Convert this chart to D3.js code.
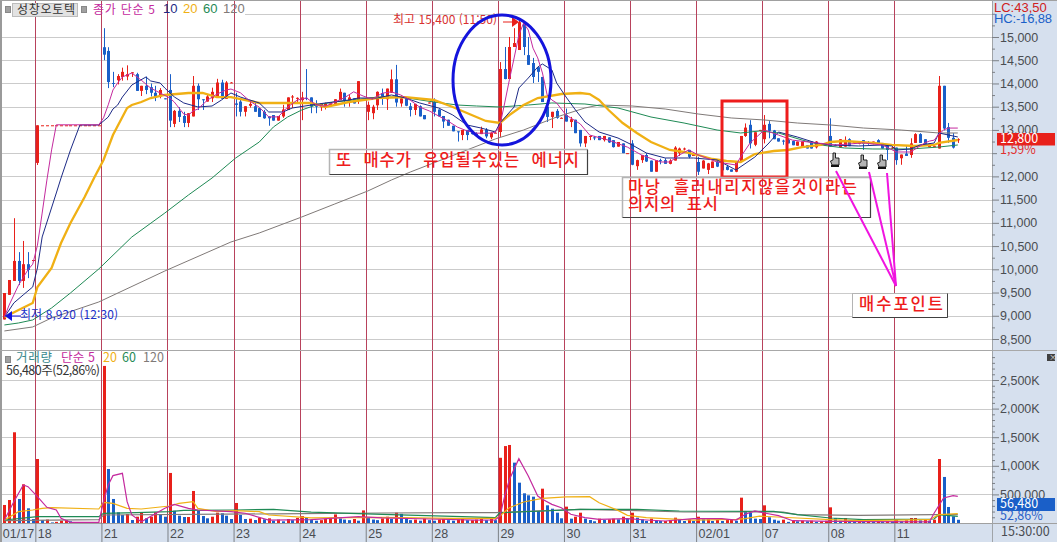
<!DOCTYPE html>
<html lang="ko">
<head>
    <meta charset="UTF-8">
    <script src="https://cdn.jsdelivr.net/npm/d3@7/dist/d3.min.js"></script>
    <title>성창오토텍</title>
    <style>
        html, body { margin: 0; padding: 0; background: #fff; overflow: hidden; }
        svg { font-family: "Noto Sans CJK KR", sans-serif; }
    </style>
</head>
<body>
<script>
    // 10분봉 (index 0 ~ 202)
    const opens = [
        8920,9450,9750,10180,9750,10110,10190,12290,13100,13100,
        13100,13100,13100,13100,13100,13100,13100,13100,13100,13100,
        13100,14780,14700,14010,14070,14140,14150,14230,14200,13840,
        13950,13920,13800,13720,13680,13860,13130,13410,13300,13150,
        13290,13950,13660,13610,13680,13700,14020,13670,14020,13570,
        13610,13390,13520,13510,13470,13390,13290,13320,13200,13290,
        13430,13700,13680,13640,13690,13700,13560,13490,13500,13510,
        13560,13640,13800,13630,13680,13640,13650,13390,13360,13530,
        13790,13660,13800,14090,13570,13680,13510,13430,13510,13320,
        13590,13610,13440,13300,13220,13090,12970,12890,13000,12940,
        12920,12910,13000,12840,12940,12955,14310,14095,14785,14720,
        15300,14610,14440,14350,14140,13500,13280,13410,13260,13320,
        13170,13220,13000,12710,12850,12840,12870,12780,12840,12780,
        12640,12710,12500,12710,12220,12350,12460,12340,12100,12350,
        12350,12270,12340,12500,12590,12570,12460,12310,12170,12140,
        12180,12320,12350,12210,12150,12100,12320,12870,13110,12680,
        12990,12800,13130,12990,12820,12770,12790,12760,12660,12640,
        12670,12750,12625,12700,12680,12870,12680,12625,12640,12800,
        12740,12700,12780,12730,12700,12780,12720,12670,12620,12620,
        12390,12490,12460,12720,12910,12800,12630,12650,12600,13950,
        13060,12830,12780
    ];
    const highs = [
        9490,9770,11100,10370,10610,10370,10200,13100,13100,13100,
        13100,13100,13100,13100,13100,13100,13100,13100,13100,13100,
        13100,15190,14780,14250,14200,14340,14390,14240,14230,13950,
        14150,14000,13950,13900,13680,14200,13430,13490,13390,13360,
        14160,14000,13660,13770,13910,14100,14080,14050,14030,13800,
        13690,13510,13610,13610,13470,13430,13290,13320,13300,13540,
        13700,13750,13700,13820,14310,13700,13640,13570,13590,13570,
        13660,13890,13800,13750,13680,14050,13650,13610,13540,13830,
        13890,13890,14300,14400,13750,13700,13580,13560,13530,13320,
        13590,13680,13440,13300,13220,13090,12970,13000,13000,12950,
        12950,13070,13040,12950,12950,14460,14785,15000,15190,15400,
        15300,15000,14550,14350,14140,13640,13390,13450,13270,13460,
        13280,13220,13000,12870,12880,12870,12870,12870,12840,12780,
        12740,12710,12500,12780,12360,12460,12500,12340,12350,12380,
        12390,12370,12650,12620,12620,12570,12470,12420,12350,12290,
        12320,12350,12350,12250,12150,12320,12870,13140,13210,12950,
        13000,13320,13190,13000,12820,12790,12810,12770,12750,12750,
        12670,12750,12760,12720,12700,13250,12690,12800,12860,12820,
        12760,12760,12780,12760,12750,12800,12720,12670,12640,12620,
        12470,12670,12820,12930,12930,12800,12710,12660,14160,13950,
        13150,12930,12820
    ];
    const lows = [
        8920,9450,9750,9660,9600,9810,10180,12245,13100,13100,
        13100,13100,13100,13100,13100,13100,13100,13100,13100,13100,
        13100,14500,13900,13920,13980,14060,14070,14140,13840,13730,
        13770,13720,13620,13680,13660,13060,13060,13170,13060,13060,
        13290,13430,13430,13610,13600,13700,13670,13670,14010,13290,
        13290,13290,13480,13390,13280,13240,13090,13200,13200,13260,
        13430,13470,13580,13210,13640,13360,13360,13410,13440,13510,
        13560,13640,13500,13500,13570,13560,13640,13210,13230,13430,
        13540,13430,13800,13500,13500,13510,13290,13320,13290,13230,
        13570,13290,13280,13040,13090,12970,12750,12780,12780,12900,
        12880,12910,12820,12800,12930,12850,14090,14095,14785,14720,
        14610,14400,14010,14030,13600,13170,13040,13240,13250,13180,
        13060,12930,12640,12630,12780,12780,12780,12750,12720,12620,
        12640,12500,12490,12240,12140,12290,12310,12100,12100,12260,
        12270,12260,12340,12440,12560,12390,12450,12030,12170,12050,
        12180,12200,12100,12130,12100,12090,12320,12850,12600,12650,
        12980,12710,12820,12800,12750,12680,12710,12670,12660,12620,
        12600,12600,12600,12660,12670,12640,12650,12625,12640,12650,
        12700,12690,12570,12680,12690,12710,12600,12350,12590,12250,
        12250,12440,12400,12720,12720,12700,12630,12640,12600,12990,
        12720,12600,12720
    ];
    const closes = [
        9490,9770,10180,9750,10110,9985,10200,13100,13100,13100,
        13100,13100,13100,13100,13100,13100,13100,13100,13100,13100,
        13100,14620,14030,14000,14160,14250,14200,14240,13840,13950,
        13860,13800,13700,13860,13670,13200,13410,13280,13150,13360,
        13950,13660,13640,13720,13820,14020,13670,14020,14020,13540,
        13390,13510,13560,13390,13280,13250,13250,13200,13300,13440,
        13700,13720,13690,13700,13670,13510,13500,13570,13570,13570,
        13660,13820,13630,13700,13570,14050,13650,13540,13500,13820,
        13680,13890,14090,13590,13680,13520,13430,13560,13290,13230,
        13590,13390,13290,13180,13090,12970,12960,13000,12890,12910,
        12890,13010,12860,12940,12940,14310,14095,14785,14870,15320,
        14785,14400,14140,14250,13600,13280,13390,13260,13260,13180,
        13230,12930,12710,12870,12870,12830,12780,12870,12730,12630,
        12740,12500,12500,12250,12350,12460,12320,12100,12350,12340,
        12270,12340,12620,12600,12600,12420,12460,12100,12340,12280,
        12320,12210,12130,12140,12100,12320,12870,13050,12710,12950,
        13000,13110,12980,12800,12750,12760,12710,12670,12750,12750,
        12600,12600,12750,12710,12690,12640,12670,12800,12780,12650,
        12740,12760,12700,12720,12750,12710,12600,12570,12620,12350,
        12470,12440,12710,12910,12720,12700,12700,12650,13950,13030,
        12830,12620,12800
    ];

    // 거래량 (천주)
    const volumes = [
        315,402,1586,420,676,257,70,1119,52,60,
        10,20,40,50,30,5,5,5,5,5,
        5,2746,944,420,187,140,157,52,110,180,
        82,110,187,150,110,875,215,128,105,105,
        560,215,122,82,110,180,170,128,70,350,
        140,70,75,52,93,64,82,40,60,30,
        70,50,90,120,100,60,40,50,70,90,
        150,80,60,50,70,40,220,90,60,50,
        80,110,70,180,160,90,50,60,40,80,
        50,40,60,70,50,40,60,75,50,50,
        60,75,50,75,50,1140,1345,1364,1055,705,
        519,484,460,210,600,309,250,180,82,286,
        76,110,180,76,52,30,76,52,64,76,
        64,110,76,180,93,64,35,76,47,35,
        35,52,93,52,35,64,35,110,64,64,
        35,52,35,52,52,40,443,210,180,76,
        70,309,100,58,40,58,20,40,30,40,
        30,40,20,30,40,274,87,40,87,40,
        25,30,25,35,25,30,25,30,25,58,
        30,47,87,87,47,58,40,58,1119,805,
        280,117,56
    ];

    // 가격 이동평균 [index, 값]
    const ma5 = [[0,8970],[1,9230],[3,9660],[5,9990],[6,10110],[7,10520],[8,11210],[9,11920],[10,12570],[11,13110],[20,13110],[21,13260],[22,13540],[23,13860],[24,14010],[25,14140],[27,14225],[29,14070],[31,13900],[33,13795],[35,13690],[36,13600],[37,13470],[38,13340],[39,13320],[40,13410],[41,13450],[43,13640],[45,13770],[47,13860],[48,13880],[50,13800],[52,13620],[54,13490],[56,13280],[58,13280],[60,13490],[62,13640],[64,13690],[66,13540],[68,13510],[70,13600],[72,13690],[74,13820],[76,13730],[78,13660],[80,13790],[82,13820],[84,13750],[86,13640],[88,13490],[90,13410],[92,13300],[94,13190],[96,13060],[98,12980],[100,12930],[103,12930],[104,12950],[105,13100],[106,13580],[107,14080],[108,14550],[109,15040],[110,15300],[111,15150],[112,14760],[113,14550],[114,14225],[115,13750],[116,13644],[117,13580],[119,13320],[122,13130],[124,12890],[128,12780],[132,12630],[135,12460],[139,12310],[141,12310],[143,12460],[145,12570],[147,12460],[151,12310],[155,12245],[156,12420],[158,12720],[161,13000],[164,12890],[167,12780],[172,12720],[176,12675],[182,12720],[186,12675],[189,12525],[192,12525],[195,12720],[196,12760],[197,12780],[198,12910],[199,13000],[200,13040],[202,13040]];
    const ma10 = [[0,8970],[2,9276],[4,9450],[6,9620],[7,10030],[8,10696],[11,11643],[12,11965],[14,12568],[16,13106],[20,13106],[22,13278],[23,13450],[24,13536],[25,13708],[27,13967],[30,14139],[31,14053],[33,14010],[34,13900],[36,13710],[38,13580],[41,13494],[44,13515],[46,13644],[48,13795],[50,13708],[54,13580],[56,13386],[59,13386],[61,13472],[65,13536],[68,13580],[73,13644],[75,13687],[79,13687],[82,13752],[85,13687],[88,13580],[92,13472],[95,13321],[98,13106],[101,13041],[104,12955],[105,13149],[108,13494],[109,13902],[111,14117],[113,14354],[114,14419],[116,14290],[117,14010],[119,13708],[121,13429],[123,13170],[126,12955],[130,12826],[133,12676],[136,12504],[140,12396],[142,12396],[146,12396],[151,12353],[155,12138],[159,12417],[162,12719],[164,12955],[168,12848],[172,12719],[175,12676],[181,12654],[186,12676],[188,12654],[189,12568],[192,12590],[194,12676],[197,12719],[198,12934],[200,12891],[202,12848]];
    const ma20 = [[0,8970],[3,9125],[6,9275],[7,9620],[10,10030],[12,10565],[14,10997],[17,11557],[19,11966],[21,12353],[23,12891],[26,13472],[27,13536],[29,13601],[31,13687],[34,13752],[39,13795],[42,13795],[45,13708],[48,13708],[54,13580],[61,13580],[65,13580],[68,13494],[73,13601],[79,13687],[85,13708],[91,13644],[95,13494],[99,13321],[102,13192],[105,13149],[107,13321],[110,13536],[113,13687],[118,13773],[122,13795],[124,13773],[126,13644],[128,13429],[131,13149],[134,12934],[137,12740],[141,12568],[144,12525],[147,12460],[150,12374],[153,12331],[156,12310],[159,12482],[163,12546],[166,12568],[169,12632],[173,12676],[175,12740],[178,12762],[184,12719],[188,12676],[193,12654],[197,12676],[198,12719],[202,12783]];
    const ma60 = [[0,8802],[3,8845],[6,8910],[10,9168],[14,9491],[20,10007],[27,10696],[34,11212],[39,11600],[44,11965],[49,12396],[54,12740],[57,13063],[60,13278],[63,13429],[66,13536],[70,13601],[74,13644],[79,13708],[84,13708],[91,13601],[96,13536],[100,13515],[105,13494],[111,13536],[116,13580],[123,13558],[130,13472],[137,13278],[144,13149],[151,12998],[156,12934],[160,12977],[164,12934],[169,12783],[173,12676],[178,12611],[184,12590],[192,12590],[198,12632],[202,12676]];
    const ma120 = [[0,8673],[6,8759],[10,8953],[20,9297],[34,9964],[48,10588],[54,10782],[63,11126],[70,11406],[77,11686],[82,11922],[86,12094],[98,12568],[104,12805],[110,12998],[117,13278],[123,13472],[126,13536],[133,13515],[140,13450],[147,13343],[154,13257],[161,13214],[168,13149],[175,13106],[182,13041],[190,12998],[198,12934],[202,12934]];

    // 거래량 이동평균 [index, 값]
    const volMa5 = [[0,52],[2,373],[4,665],[5,635],[7,460],[9,274],[11,227],[12,82],[14,12],[20,12],[21,373],[22,665],[23,828],[25,869],[26,373],[27,140],[29,23],[34,257],[36,326],[39,257],[41,227],[48,198],[51,170],[56,52],[65,60],[75,110],[80,90],[90,70],[100,50],[104,55],[105,122],[106,470],[107,761],[109,1125],[111,822],[113,472],[114,414],[116,326],[118,268],[120,152],[123,93],[126,64],[132,76],[136,52],[140,35],[146,76],[152,76],[155,52],[157,152],[159,210],[161,175],[164,128],[167,40],[175,30],[178,30],[181,25],[196,20],[197,175],[199,437],[201,478],[202,466]];
    const volMa20 = [[0,52],[3,198],[6,227],[8,256],[10,268],[20,245],[21,361],[23,344],[26,256],[29,245],[35,297],[37,344],[40,373],[41,256],[45,198],[49,215],[54,198],[56,140],[65,90],[80,100],[95,80],[104,80],[105,122],[107,268],[110,367],[114,431],[119,455],[124,460],[126,355],[130,221],[132,134],[136,93],[140,76],[146,52],[155,64],[157,76],[160,120],[168,87],[175,58],[181,40],[196,58],[198,146],[202,163]];
    const volMa60 = [[0,52],[7,110],[20,110],[21,170],[28,180],[35,198],[38,220],[49,227],[57,239],[65,190],[80,150],[97,110],[104,93],[105,180],[114,210],[122,239],[134,239],[143,210],[160,204],[163,204],[168,146],[175,87],[182,58],[197,70],[198,146],[202,117]];
    const volMa120 = [[0,40],[20,60],[21,140],[57,160],[80,175],[97,180],[104,180],[122,239],[132,221],[144,192],[165,192],[168,146],[181,134],[197,146],[202,146]];

    // 날짜 눈금
    const dayIndex = [0,7,21,35,49,63,77,91,105,119,133,147,161,175,189];
    const dayLabels = ["01/17","18","21","22","23","24","25","28","29","30","31","02/01","07","08","11"];
    const priceTicks = [15000,14500,14000,13500,13000,12500,12000,11500,11000,10500,10000,9500,9000,8500];
    const priceMinorTicks = [15500,15250,14750,14250,13750,13250,12750,12250,11750,11250,10750,10250,9750,9250,8750];
    const volumeTicks = [500,1000,1500,2000,2500];
    const volumeMinorTicks = [100,200,300,400,600,700,800,900,1100,1200,1300,1400,1600,1700,1800,1900,2100,2200,2300,2400,2600,2700,2800,2900];

    const RED = "#e8201a", BLUE = "#1a5fc8", PURPLE = "#c42a9e", NAVY = "#1c2a86",
          ORANGE = "#f0b014", GREEN = "#1f8a55", GRAY = "#807a78", DAYLINE = "#b8425c";
    const LATIN = "'Liberation Sans', sans-serif";

    const width = 1057, height = 542, plotRight = 992, axisBottom = 523;

    const svg = d3.select("body")
        .append("svg")
        .attr("width", width)
        .attr("height", height)
        .style("display", "block");

    // 스케일
    const xScale = d3.scaleLinear().domain([0, 202]).range([4.4, 957.8]);
    const yPrice = d3.scaleLinear().domain([8500, 15000]).range([339, 37]);
    const yVolume = d3.scaleLinear().domain([0, 2500]).range([axisBottom, 380]);
    const dayX = i => xScale(i) - 2.1;

    // 축 배경
    svg.append("rect").attr("x", plotRight).attr("y", 0).attr("width", width - plotRight).attr("height", height).attr("fill", "#d6e0ee");
    svg.append("rect").attr("x", 0).attr("y", axisBottom).attr("width", width).attr("height", height - axisBottom).attr("fill", "#d6e0ee");
    svg.append("rect").attr("x", 0).attr("y", 0).attr("width", 2).attr("height", height).attr("fill", "#9a9a9a");
    svg.append("rect").attr("x", 0).attr("y", 0).attr("width", width).attr("height", 1).attr("fill", "#a0a0a0");

    // 가로 격자
    svg.append("g").selectAll("line")
        .data(priceTicks.concat([15500]))
        .join("line")
        .attr("x1", d => d === 15500 ? 245 : 2).attr("x2", plotRight)
        .attr("y1", d => Math.round(yPrice(d)) + 0.5).attr("y2", d => Math.round(yPrice(d)) + 0.5)
        .attr("stroke", "#cbcbcb");
    svg.append("g").selectAll("line")
        .data(volumeTicks)
        .join("line")
        .attr("x1", 2).attr("x2", plotRight)
        .attr("y1", d => Math.round(yVolume(d)) + 0.5).attr("y2", d => Math.round(yVolume(d)) + 0.5)
        .attr("stroke", "#cbcbcb");

    // 날짜 세로선
    svg.append("g").selectAll("line")
        .data(dayIndex.slice(1))
        .join("line")
        .attr("x1", d => Math.round(dayX(d)) + 0.5).attr("x2", d => Math.round(dayX(d)) + 0.5)
        .attr("y1", 1).attr("y2", axisBottom)
        .attr("stroke", DAYLINE);

    // 패널 구분선
    svg.append("line").attr("x1", 0).attr("x2", width).attr("y1", 350.5).attr("y2", 350.5).attr("stroke", "#a8a8a8");
    svg.append("line").attr("x1", 0).attr("x2", width).attr("y1", axisBottom + 0.5).attr("y2", axisBottom + 0.5).attr("stroke", "#a0a0a0");
    svg.append("line").attr("x1", plotRight + 0.5).attr("x2", plotRight + 0.5).attr("y1", 0).attr("y2", height).attr("stroke", "#a0a4a8");

    // 캔들
    const candles = svg.append("g").selectAll("g")
        .data(d3.range(opens.length))
        .join("g");
    candles.append("line")
        .attr("x1", i => Math.round(xScale(i)) + 0.5).attr("x2", i => Math.round(xScale(i)) + 0.5)
        .attr("y1", i => yPrice(highs[i])).attr("y2", i => yPrice(lows[i]))
        .attr("stroke", i => closes[i] >= opens[i] ? RED : BLUE);
    candles.append("rect")
        .attr("x", i => Math.round(xScale(i)) - 1)
        .attr("width", 3)
        .attr("y", i => yPrice(Math.max(opens[i], closes[i])))
        .attr("height", i => Math.max(1, Math.abs(yPrice(opens[i]) - yPrice(closes[i]))))
        .attr("fill", i => closes[i] >= opens[i] ? RED : BLUE);

    // 거래량 막대 (직전 봉보다 늘면 빨강)
    svg.append("g").selectAll("rect")
        .data(volumes)
        .join("rect")
        .attr("x", (d, i) => Math.round(xScale(i)) - 1)
        .attr("width", 3)
        .attr("y", d => yVolume(d))
        .attr("height", d => axisBottom - yVolume(d))
        .attr("fill", (d, i) => i > 0 && d < volumes[i - 1] ? BLUE : RED);

    // 이동평균선
    const priceLine = d3.line().x(d => xScale(d[0])).y(d => yPrice(d[1]));
    const volumeLine = d3.line().x(d => xScale(d[0])).y(d => yVolume(d[1]));
    [[ma120, GRAY, 1], [ma60, GREEN, 1], [ma20, ORANGE, 2.3], [ma10, NAVY, 1], [ma5, PURPLE, 1]].forEach(s => {
        svg.append("path").attr("d", priceLine(s[0])).attr("fill", "none").attr("stroke", s[1]).attr("stroke-width", s[2]);
    });
    [[volMa120, GRAY, 1.2], [volMa60, GREEN, 1.2], [volMa20, ORANGE, 1.2], [volMa5, PURPLE, 1.2]].forEach(s => {
        svg.append("path").attr("d", volumeLine(s[0])).attr("fill", "none").attr("stroke", s[1]).attr("stroke-width", s[2]);
    });

    // 오른쪽 축 (12,500 글자는 원본에서 등락률 표시에 가려짐)
    function styleAxis(g) {
        g.select(".domain").remove();
        g.selectAll("line").attr("stroke", "#7c8086");
        g.selectAll("text").attr("font-size", 12.5).attr("fill", "#4a4d52");
    }
    svg.append("g").attr("transform", `translate(${plotRight},0)`)
        .call(d3.axisRight(yPrice).tickValues(priceTicks).tickSize(7).tickPadding(1)
            .tickFormat(d => d === 12500 ? "" : d3.format(",")(d)))
        .call(styleAxis);
    svg.append("g").attr("transform", `translate(${plotRight},0)`)
        .call(d3.axisRight(yPrice).tickValues(priceMinorTicks).tickSize(3).tickFormat(""))
        .call(styleAxis);
    svg.append("g").attr("transform", `translate(${plotRight},0)`)
        .call(d3.axisRight(yVolume).tickValues(volumeTicks).tickSize(7).tickPadding(1)
            .tickFormat(d => d === 500 ? "500,000" : d3.format(",")(d) + "K"))
        .call(styleAxis);
    svg.append("g").attr("transform", `translate(${plotRight},0)`)
        .call(d3.axisRight(yVolume).tickValues(volumeMinorTicks).tickSize(3).tickFormat(""))
        .call(styleAxis);

    // 아래 날짜 축
    const xAxisG = svg.append("g").attr("transform", `translate(0,${axisBottom})`)
        .call(d3.axisBottom(d3.scaleLinear().domain(xScale.domain()).range(xScale.range().map(r => r - 2.1)))
            .tickValues(dayIndex).tickSize(19).tickPadding(0)
            .tickFormat((d, i) => dayLabels[i]))
        .call(styleAxis);
    xAxisG.selectAll("text")
        .attr("text-anchor", "start")
        .attr("x", 2)
        .attr("y", 5)
        .attr("dy", "0.8em");
    xAxisG.selectAll(".tick").filter(d => d === 0).select("line").remove();
    xAxisG.selectAll(".tick").filter(d => d === 0).select("text").attr("x", 0);

    function addText(x, y, str, color, size, attrs) {
        const t = svg.append("text")
            .attr("x", x).attr("y", y)
            .attr("fill", color)
            .attr("font-size", size || 12)
            .attr("dominant-baseline", "middle")
            .style("white-space", "pre")
            .text(str);
        Object.entries(attrs || {}).forEach(e => t.attr(e[0], e[1]));
        return t;
    }
    function smallSquare(x, y) {
        svg.append("rect").attr("x", x).attr("y", y).attr("width", 5).attr("height", 6)
            .attr("fill", "#a0a0a0").attr("stroke", "#888");
    }

    // 위쪽 범례
    smallSquare(5.5, 6.5);
    svg.append("rect").attr("x", 12.5).attr("y", 3.5).attr("width", 65).attr("height", 13)
        .attr("fill", "#e2e2e2").attr("stroke", "#bcbcbc");
    addText(17, 10.5, "성창오토텍", "#333", 12, { textLength: 58 });
    smallSquare(81.5, 6.5);
    addText(93, 10.5, "종가 단순 5", PURPLE, 12, { textLength: 62 });
    addText(163, 10, "10", NAVY, 13, { "font-family": LATIN });
    addText(183, 10, "20", ORANGE, 13, { "font-family": LATIN });
    addText(203, 10, "60", GREEN, 13, { "font-family": LATIN });
    addText(223, 10, "120", GRAY, 13, { "font-family": LATIN });

    addText(994, 8.5, "LC:43,50", "#d02020", 13, { "font-family": LATIN });
    addText(994, 20, "HC:-16,88", "#1a5fc8", 13, { "font-family": LATIN, textLength: 58 });

    // 아래 범례
    smallSquare(5.5, 356.5);
    addText(16, 359, "거래량", "#3a8a8e", 12.5, { textLength: 36 });
    addText(61, 359, "단순 5", PURPLE, 12.5, { textLength: 34 });
    addText(103, 359, "20", ORANGE, 12.5);
    addText(122, 359, "60", GREEN, 12.5);
    addText(143, 359, "120", GRAY, 12.5);
    addText(6, 372, "56,480주(52,86%)", "#333", 12.5, { textLength: 94 });

    // 현재가 표시
    svg.append("rect").attr("x", 997).attr("y", 145).attr("width", 58).attr("height", 13).attr("fill", "#d6e0ee");
    svg.append("rect").attr("x", 997).attr("y", 133).attr("width", 58).attr("height", 12.5).attr("fill", RED);
    addText(1000, 139.5, "12,800", "#fff", 12.5);
    addText(1000, 151, "1,59%", "#e03030", 12.5);
    svg.append("rect").attr("x", 997).attr("y", 498).attr("width", 58).attr("height", 13).attr("fill", "#1a5fc8");
    addText(1000, 505, "56,480", "#fff", 12.5);
    addText(1000, 517, "52,86%", "#2a5fc8", 12.5);

    // 닫기 버튼
    svg.append("rect").attr("x", 1047).attr("y", 354).attr("width", 8).attr("height", 7).attr("fill", "#404040");
    addText(1049, 357.5, "×", "#ddd", 8);
    addText(1001, 533, "15:30:00", "#4a4d52", 12.5);

    // 최고 / 최저 표시
    addText(393, 21, "최고 15,400 (11:50)", "#d83030", 12, { textLength: 104 });
    svg.append("line").attr("x1", 503).attr("x2", 515).attr("y1", 22).attr("y2", 22).attr("stroke", RED);
    svg.append("path").attr("d", "M512,17L519,22L512,27Z").attr("fill", RED);
    addText(20, 315.5, "최저 8,920 (12:30)", "#2030c8", 12, { textLength: 98 });
    svg.append("line").attr("x1", 10).attr("x2", 21).attr("y1", 316).attr("y2", 316).attr("stroke", "#1010e0");
    svg.append("path").attr("d", "M5,316L12,311L12,321Z").attr("fill", "#1010e0");

    // 손으로 그린 표시들
    svg.append("ellipse").attr("cx", 502).attr("cy", 80).attr("rx", 49).attr("ry", 65)
        .attr("fill", "none").attr("stroke", "#1414dc").attr("stroke-width", 3);
    svg.append("rect").attr("x", 722).attr("y", 101).attr("width", 65).attr("height", 76)
        .attr("fill", "none").attr("stroke", "#ee1c1c").attr("stroke-width", 3);

    function noteBox(x, y, w, h) {
        svg.append("path").attr("d", `M${x},${y + h}V${y}H${x + w}`).attr("fill", "none").attr("stroke", "#b4b4b4").attr("stroke-width", 1.5);
        svg.append("path").attr("d", `M${x},${y + h}H${x + w}V${y}`).attr("fill", "none").attr("stroke", "#404040").attr("stroke-width", 1.2);
    }
    const noteFont = { "font-weight": 500, lengthAdjust: "spacing" };
    noteBox(329.5, 149.5, 258, 25);
    addText(336, 162, "또  매수가  유입될수있는  에너지", "#ee1c1c", 16.5, { ...noteFont, textLength: 243 });
    noteBox(622.5, 177.5, 248, 40);
    addText(628, 189, "마낭  흘러내리지않을것이라는", "#ee1c1c", 16.5, { ...noteFont, textLength: 229 });
    addText(628, 206, "의지의  표시", "#ee1c1c", 16.5, { ...noteFont, textLength: 90 });

    // 매수포인트 지시선
    [[836, 171], [869, 172], [887, 173]].forEach(p => {
        svg.append("line").attr("x1", p[0]).attr("y1", p[1]).attr("x2", 896).attr("y2", 286)
            .attr("stroke", "#f014e0").attr("stroke-width", 2);
    });
    svg.append("rect").attr("x", 852.5).attr("y", 293.5).attr("width", 95).attr("height", 24)
        .attr("fill", "#fff").attr("stroke", "#b4b4b4");
    svg.append("path").attr("d", "M852.5,317.5H947.5V293.5").attr("fill", "none").attr("stroke", "#404040");
    addText(859, 306, "매수포인트", "#ee1c1c", 16.5, { ...noteFont, textLength: 84 });

    // 손가락 커서
    [835, 863, 882].forEach((x, i) => {
        const top = i === 0 ? 153 : 155;
        svg.append("path")
            .attr("d", `M${x - 2},${top}h2.5v5h3.5v7h-7l-1.5,-4l2.5,-1z`)
            .attr("fill", "#b4b4b4").attr("stroke", "#111").attr("stroke-width", 0.9);
        svg.append("rect").attr("x", x - 4).attr("width", 8).attr("y", top + 12).attr("height", 2).attr("fill", "#111");
    });
</script>
</body>
</html>
